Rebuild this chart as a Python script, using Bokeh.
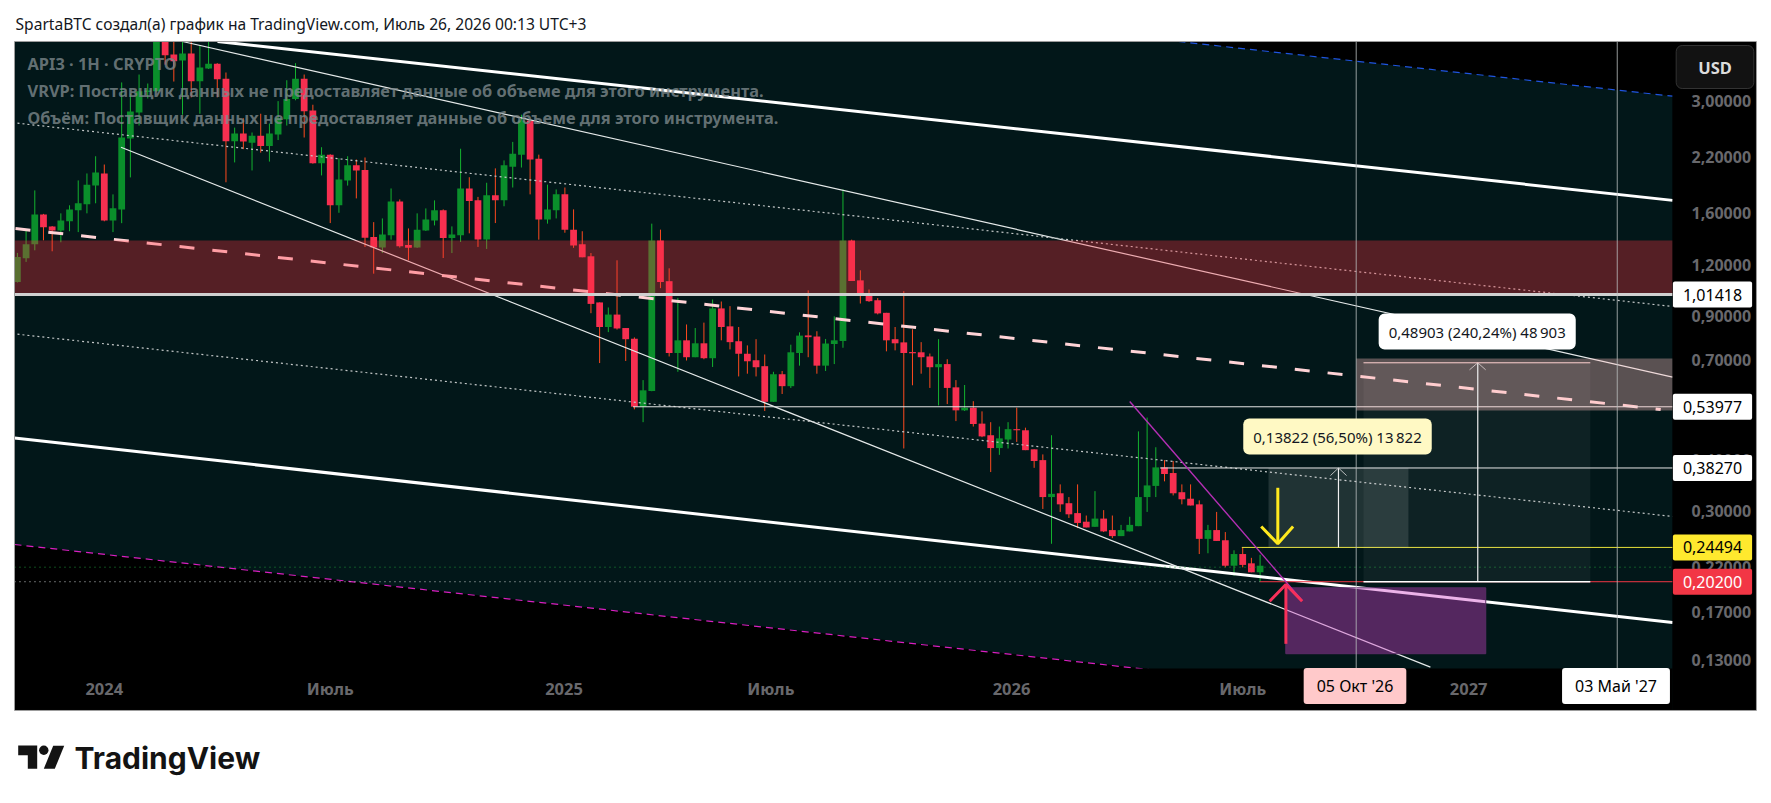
from bokeh.plotting import figure
from bokeh.layouts import column
from bokeh.embed import file_html
from bokeh.resources import INLINE
from bokeh.models import ColumnDataSource, Label, FixedTicker, Range1d

# ---- weekly candles (price) ----
open_ = [1.088,1.243,1.345,1.590,1.487,1.454,1.530,1.627,1.683,1.872,2.002,1.538,1.636,2.437,2.820,3.165,3.175,4.32,3.905,3.776,3.93,3.362,3.61,3.71,3.41,2.40,2.505,2.38,2.475,2.335,2.49,2.715,3.04,3.41,2.85,2.12,2.225,1.674,1.925,2.095,2.04,1.40,1.32,1.415,1.71,1.34,1.32,1.454,1.538,1.627,1.393,1.415,1.84,1.721,1.382,1.77,1.721,2.08,2.225,2.696,2.175,1.545,1.627,1.78,1.46,1.345,1.257,.97,.845,.906,.84,.791,.54,.59,1.3736,1.093,.73,.784,.713,.771,.709,.938,.848,.78,.727,.701,.678,.555,.648,.606,.73,.806,.801,.68,.768,.781,1.3736,1.098,1.022,.982,.915,.789,.775,.734,.733,.716,.674,.686,.602,.529,.537,.491,.46,.428,.449,.476,.473,.425,.40,.325,.332,.314,.297,.283,.275,.288,.27,.261,.268,.276,.325,.346,.384,.372,.334,.322,.312,.257,.27,.255,.221,.236,.224,.213]
high = [1.281,1.454,1.820,1.595,1.490,1.600,1.674,1.925,2.002,2.205,2.105,1.780,3.338,3.135,3.490,3.318,4.8,4.6,4.20,4.27,4.20,4.11,4.27,3.72,3.53,2.59,2.73,2.52,2.80,2.65,3.005,3.38,3.72,3.49,2.945,2.32,2.23,2.18,2.205,2.165,2.19,1.523,1.555,1.84,1.73,1.47,1.60,1.645,1.721,1.636,1.487,2.30,1.96,1.755,1.90,2.06,2.154,2.39,2.785,2.696,2.225,1.88,1.83,1.85,1.636,1.447,1.28,.97,.943,1.229,.84,.797,.627,1.51,1.46,1.175,.995,.857,.84,.866,.986,.975,.95,.845,.762,.789,.724,.657,.66,.765,.82,1.038,.825,.79,.897,1.83,1.38,1.162,1.043,.994,.915,.845,1.033,.834,.776,.728,.789,.705,.627,.61,.557,.526,.495,.483,.495,.537,.48,.425,.413,.46,.349,.325,.349,.293,.336,.302,.293,.278,.291,.47,.508,.43,.40,.398,.349,.349,.319,.278,.299,.267,.241,.245,.231,.235]
low = [1.085,1.218,1.300,1.375,1.293,1.360,1.447,1.440,1.600,1.693,1.530,1.440,1.514,1.958,2.620,3.050,3.175,3.69,3.355,2.785,3.07,2.80,3.60,3.07,1.905,2.13,2.295,2.036,2.25,2.14,2.415,2.62,3.02,2.45,2.115,1.98,1.515,1.605,1.87,1.74,1.325,1.14,1.28,1.38,1.32,1.229,1.318,1.449,1.495,1.245,1.28,1.362,1.43,1.325,1.31,1.515,1.665,1.85,2.07,1.78,1.38,1.51,1.555,1.435,1.318,1.25,.913,.69,.821,.833,.698,.532,.495,.589,1.051,.716,.657,.70,.713,.705,.675,.784,.745,.64,.65,.64,.527,.555,.58,.60,.68,.713,.65,.66,.686,.752,1.094,.964,.973,.907,.737,.741,.427,.609,.65,.60,.544,.548,.498,.527,.483,.455,.374,.412,.427,.443,.423,.383,.304,.25,.299,.289,.273,.274,.275,.267,.258,.261,.268,.276,.299,.325,.355,.328,.312,.31,.236,.237,.254,.219,.209,.219,.213,.202]
close = [1.252,1.345,1.590,1.479,1.454,1.538,1.636,1.693,1.878,2.012,1.538,1.646,2.450,2.836,3.175,3.191,4.6,3.89,3.76,3.93,3.362,3.63,3.71,3.40,2.40,2.505,2.395,2.475,2.335,2.505,2.73,3.04,3.41,2.84,2.12,2.225,1.674,1.935,2.095,2.036,1.395,1.32,1.42,1.71,1.33,1.318,1.46,1.545,1.627,1.393,1.42,1.84,1.715,1.382,1.77,1.721,2.095,2.235,2.696,2.165,1.545,1.636,1.78,1.46,1.335,1.25,.962,.845,.906,.838,.789,.54,.592,1.3736,1.088,.73,.784,.713,.771,.709,.938,.845,.776,.727,.697,.674,.555,.648,.606,.733,.805,.798,.68,.77,.784,1.3736,1.094,1.02,.977,.912,.784,.771,.73,.729,.713,.674,.686,.60,.529,.537,.49,.457,.428,.452,.476,.473,.423,.398,.325,.331,.312,.295,.281,.274,.288,.268,.261,.27,.278,.325,.347,.384,.37,.332,.321,.31,.257,.27,.254,.221,.236,.222,.213,.221]

x_labels = ["2024","Июль","2025","Июль","2026","Июль","2027"]
x_label_bars = [10,36,62.9,86.7,114.4,141,167]
y_ticks = [3.0,2.2,1.6,1.2,0.9,0.7,0.4,0.3,0.22,0.17,0.13]
y_labels = ["3,00000","2,20000","1,60000","1,20000","0,90000","0,70000","0,40000","0,30000","0,22000","0,17000","0,13000"]

# ---- drawings: bars and prices ----
CX0, CX1 = -1.945, 200.93          # whole canvas
CY0, CY1 = 0.09689, 5.2896
X0, X1, X2 = -0.334, 190.47, 200.12  # pane left, pane right, price scale right
Y0, Y1, Y2 = 0.12405, 4.2015, 0.09799 # pane bottom, pane top, time scale bottom
channel_bars = [X0, 133.6, X1]
channel_top = [Y1, Y1, 3.09]
channel_bottom = [0.249, 0.1215, 0.08965]
blue_b, blue_p = [133.6, X1], [Y1, 3.09]
magenta_b, magenta_p = [X0, 136.0], [0.249, 0.1195]
thick_up_b, thick_up_p = [23.03, X1], [4.2015, 1.721]
thick_lo_b, thick_lo_p = [X0, X1], [0.453, 0.1606]
thin_lo_b, thin_lo_p = [11.92, 162.6], [2.320, 0.125]
thin_up_b, thin_up_p = [19.0, X1], [4.2015, 0.6373]
dot_up_b, dot_up_p = [0.01, X1], [2.655, 0.948]
dot_lo_b, dot_lo_p = [0.01, X1], [0.8114, 0.2914]
pink_b, pink_p = [-0.22, 189.1], [1.469, 0.5315]
trend_b, trend_p = [128.0, 147.84], [0.556, 0.1817]
level_res, level_a, level_b, level_c, level_d, level_green = 1.01418, 0.53977, 0.38270, 0.24494, 0.20200, 0.2192
band_top, band_bottom = 1.3736, 1.01418
vline_a, vline_b = 154.06, 184.1

W, H = 1763, 712
p = figure(width=W, height=H, y_axis_type="log", y_axis_location="right",
           x_range=Range1d(CX0, CX1), y_range=Range1d(CY0, CY1),
           toolbar_location=None, output_backend="svg", min_border=0,
           background_fill_color="#ffffff", border_fill_color="#ffffff", outline_line_color=None)
p.grid.visible = False
FONT = "Noto Sans"
yax = p.yaxis[0]
yax.ticker = FixedTicker(ticks=y_ticks)
yax.major_label_overrides = dict(zip(y_ticks, y_labels))
yax.fixed_location = X1
xax = p.xaxis[0]
xax.ticker = FixedTicker(ticks=x_label_bars)
xax.major_label_overrides = dict(zip(x_label_bars, x_labels))
xax.fixed_location = Y0
for ax in (xax, yax):
    ax.axis_line_color = None
    ax.major_tick_line_color = None
    ax.minor_tick_line_color = None
    ax.major_label_text_color = "#68686c"
    ax.major_label_text_font = FONT
    ax.major_label_text_font_style = "bold"
yax.major_label_text_font_size = "16px"
xax.major_label_text_font_size = "16.5px"
yax.major_label_standoff = 13
xax.major_label_standoff = 2

def box(l, r, t, b, **kw):
    p.quad(left=l, right=r, top=t, bottom=b, line_color=None, **kw)

box(X0, X2, Y1, Y2, fill_color="#000000")
BG = "#021719"
p.varea(channel_bars, channel_top, channel_bottom, color=BG)

# candles
idx = list(range(len(open_)))
up = [i for i in idx if close[i] >= open_[i]]
dn = [i for i in idx if close[i] < open_[i]]
for ids, body, wick in ((up, "#0a8f2b", "#14b32f"), (dn, "#f72f50", "#ff4a1f")):
    src = ColumnDataSource(dict(x=ids, o=[open_[i] for i in ids], c=[close[i] for i in ids],
                                h=[high[i] for i in ids], l=[low[i] for i in ids]))
    p.segment("x", "h", "x", "l", source=src, color=wick, line_width=1)
    p.vbar("x", width=0.78, top="o", bottom="c", source=src, fill_color=body, line_color=None)

# trend channels
p.line(thick_up_b, thick_up_p, color="#ffffff", line_width=3)
p.line(thick_lo_b, thick_lo_p, color="#ffffff", line_width=3)
p.line(thin_lo_b, thin_lo_p, color="#e6eaea", line_width=1.2)
p.line(thin_up_b, thin_up_p, color="#e6eaea", line_width=1.2)
p.line(dot_up_b, dot_up_p, color="#c4c8c8", line_width=1.2, line_dash="2 3")
p.line(dot_lo_b, dot_lo_p, color="#c4c8c8", line_width=1.2, line_dash="2 3")
p.line(pink_b, pink_p, color="#ffd3d6", line_width=3, line_dash="15 18")
p.line(blue_b, blue_p, color="#1f55e0", line_width=1.2, line_dash="7 5")
p.line(magenta_b, magenta_p, color="#d81fc0", line_width=1.2, line_dash="7 5")

# levels
p.line([X0, X1], [level_green]*2, color="#1f9a3a", line_width=1, line_dash="1 4")
p.line([X0, 143], [level_d]*2, color="#c8cccc", line_width=1, line_dash="1 4")
p.line([70.84, X1], [level_a]*2, color="#e6e6e6", line_width=1)
p.line([131.5, X1], [level_b]*2, color="#e6e6e6", line_width=1)
p.line([140.9, X1], [level_c]*2, color="#e8e23a", line_width=1)
p.line([143, X1], [level_d]*2, color="#f23645", line_width=1)

# measure boxes
box(143.97, 160.07, level_b, level_c, fill_color="#ffffff", fill_alpha=0.12)
box(154.9, 181.0, 0.69103, level_d, fill_color="#ffffff", fill_alpha=0.05)
box(154.06, X1, 0.7079, 0.5286, fill_color="#ffbcbc", fill_alpha=0.35)
p.line([152.02, 152.02], [level_c, level_b], color="#f0f0f0", line_width=1.2)
p.line([151.1, 152.02, 152.95], [0.3668, level_b, 0.3668], color="#b8bcbc", line_width=1)
p.line([168.05, 168.05], [level_d, 0.69103], color="#f0f0f0", line_width=1.2)
p.line([167.1, 168.05, 168.96], [0.6643, 0.69103, 0.6643], color="#c8bcbc", line_width=1)
p.line([154.9, 181.0], [0.69103]*2, color="#ffd0d0", line_width=1)
p.line([154.9, 181.0], [level_d]*2, color="#ffffff", line_width=1.5)

# resistance band
box(X0, X1, band_top, band_bottom, fill_color="#ff3040", fill_alpha=0.33)
p.line([X0, X1], [level_res]*2, color="#cfd0d0", line_width=3)

# purple zone, trend line, arrows
p.quad(left=145.96, right=168.97, top=0.1952, bottom=0.1348, fill_color="#d040c8", fill_alpha=0.4,
       line_color="#5a2c66", line_width=1)
p.line(trend_b, trend_p, color="#b52fb5", line_width=1.4)
p.line([145.04, 145.04], [0.3424, 0.25], color="#ffe91e", line_width=3)
p.line([143.13, 145.04, 146.8], [0.2755, 0.25, 0.2755], color="#ffe91e", line_width=3)
p.line([145.97, 145.97], [0.1425, 0.1989], color="#f7305a", line_width=3)
p.line([144.1, 145.97, 147.84], [0.181, 0.1989, 0.181], color="#f7305a", line_width=3)

# vertical lines
p.line([vline_a]*2, [Y0, Y1], color="#b9bfbf", line_width=1, line_alpha=0.8)
p.line([vline_b]*2, [Y0, Y1], color="#b9bfbf", line_width=1, line_alpha=0.8)

# scales and the white page round the pane
box(X0, X1, Y0, Y2, fill_color="#000000")
box(X1, X2, Y1, Y2, fill_color="#000000")
box(CX0 - 5, CX1 + 5, CY1 * 1.3, Y1, fill_color="#ffffff")
box(CX0 - 5, X0, CY1 * 1.3, CY0 * 0.8, fill_color="#ffffff")
box(X2, CX1 + 5, CY1 * 1.3, CY0 * 0.8, fill_color="#ffffff")
box(CX0 - 5, CX1 + 5, Y2, CY0 * 0.8, fill_color="#ffffff")
p.quad(left=X0, right=X2, top=Y1, bottom=Y2, fill_alpha=0, line_color="#9c9c9c", line_width=1)

F_B = H
def text(px, py, s, color="#000000", size="15px", align="left", style="normal", alpha=1.0, **kw):
    p.add_layout(Label(x=px, y=F_B - py, x_units="screen", y_units="screen", text=s, text_color=color,
                       text_font=FONT, text_font_size=size, text_align=align, text_baseline="middle",
                       text_font_style=style, text_alpha=alpha, **kw))

def price_tag(price, s, bg, color="#000000"):
    p.add_layout(Label(x=1712, y=price, x_units="screen", y_units="data", text=s, text_color=color,
                       text_font=FONT, text_font_size="16px", text_align="center", text_baseline="middle",
                       background_fill_color=bg, padding=(10, 7), border_radius=2))

text(15, 23, "SpartaBTC создал(а) график на TradingView.com, Июль 26, 2026 00:13 UTC+3", color="#131722", size="15.6px")
OVER = "#7d888b"
text(27, 63, "API3 · 1H · CRYPTO", color=OVER, size="16.4px", alpha=0.8, style="bold")
text(27, 90, "VRVP: Поставщик данных не предоставляет данные об объеме для этого инструмента.", color=OVER, size="16.4px", alpha=0.8, style="bold")
text(27, 117, "Объём: Поставщик данных не предоставляет данные об объеме для этого инструмента.", color=OVER, size="16.4px", alpha=0.8, style="bold")

text(1337, 436, "0,13822 (56,50%) 13\u202f822", color="#131722", size="15px", align="center",
     background_fill_color="#fff9c4", padding=(10, 8), border_radius=6)
text(1476.7, 331, "0,48903 (240,24%) 48\u202f903", color="#131722", size="15px", align="center",
     background_fill_color="#ffffff", padding=(10, 8), border_radius=6)

text(1714.5, 66.5, "USD", color="#dcdcdc", size="16.5px", align="center", style="bold",
     background_fill_color="#121212", padding=(22, 10), border_radius=6, border_line_color="#333333")

price_tag(level_res, "1,01418", "#ffffff")
price_tag(level_a, "0,53977", "#ffffff")
price_tag(level_b, "0,38270", "#ffffff")
price_tag(level_c, "0,24494", "#ffe92e")
price_tag(level_d, "0,20200", "#f23645", "#ffffff")

text(1354.5, 685.5, "05 Окт '26", size="16px", align="center", background_fill_color="#ffc9ca", padding=(13, 7), border_radius=3)
text(1615.5, 685.5, "03 Май '27", size="16px", align="center", background_fill_color="#ffffff", padding=(13, 7), border_radius=3)

# logo strip
logo = figure(width=W, height=83, x_range=(0, W), y_range=(83, 0), toolbar_location=None, output_backend="svg",
              min_border=0, outline_line_color=None, x_axis_location=None, y_axis_location=None)
logo.grid.visible = False
INK = "#131313"
logo.patch([17.7, 36.7, 36.7, 27.3, 27.3, 17.7], [33, 33, 56.3, 56.3, 42.7, 42.7], color=INK, line_color=None)
logo.patch([52.7, 63.7, 54.3, 43.3], [33.3, 33.3, 56.3, 56.3], color=INK, line_color=None)
logo.scatter([43.3], [37.7], size=9.4, color=INK, line_color=None)
logo.add_layout(Label(x=74, y=45, text="TradingView", text_font="Inter", text_font_style="bold",
                      text_font_size="30px", text_color=INK, text_baseline="middle"))

open("out.html", "w").write(file_html(column(p, logo, spacing=0), INLINE))
